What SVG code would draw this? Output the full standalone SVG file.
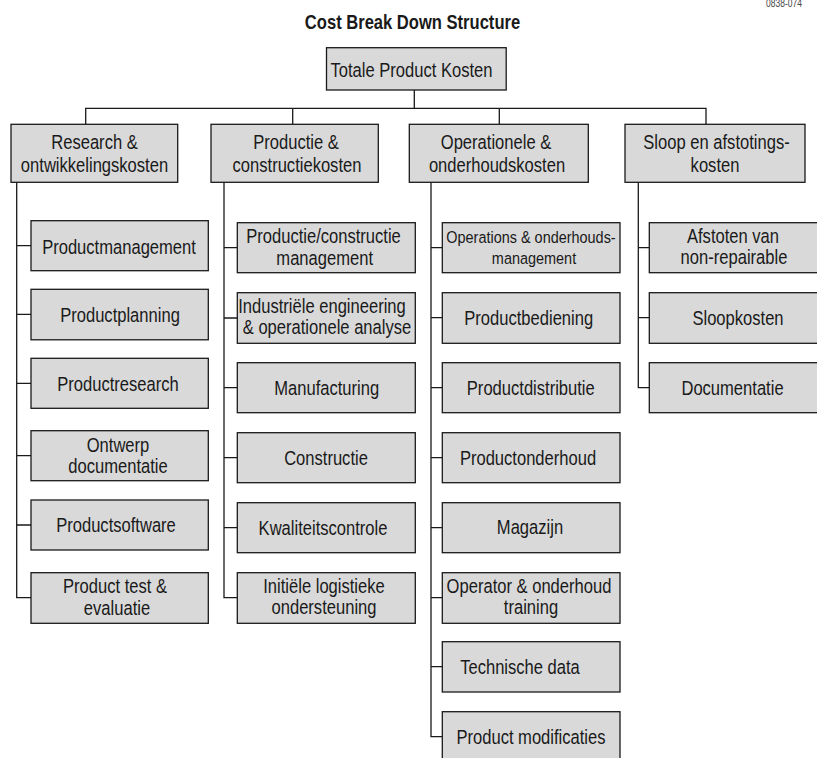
<svg xmlns="http://www.w3.org/2000/svg" width="817" height="758" viewBox="0 0 817 758">
  <style>
    text { font-family: "Liberation Sans", Arial, sans-serif; fill: #1a1a1a; text-anchor: middle; }
    .lbl { font-size: 19.5px; }
    .sm { font-size: 17px; }
    .title { font-size: 19.5px; font-weight: bold; }
    .code { font-size: 10px; fill: #444; text-anchor: start; }
    .box { fill: #d9d9d9; stroke: #1a1a1a; stroke-width: 1.3; }
    .wire { fill: none; stroke: #1a1a1a; stroke-width: 1.3; }
  </style>
  <rect width="817" height="758" fill="#ffffff"/>

  <!-- labels use a condensed look: Arial metrics squeezed to 85% width -->
  <text class="code" transform="translate(766 7) scale(0.85 1)">0838-074</text>
  <text class="title" transform="translate(412.5 29) scale(0.85 1)">Cost Break Down Structure</text>

  <!-- connectors -->
  <g id="connectors" class="wire">
    <path d="M414.3 90 V108.3 M85.7 124.3 V108.3 H706 V124.3 M292.7 108.3 V124.3 M499.3 108.3 V124.3"/>
    <!-- column 1 -->
    <path d="M16.7 182.3 V597.7 H31 M16.7 245.7 H31 M16.7 314.3 H31 M16.7 383.3 H31 M16.7 455.7 H31 M16.7 525 H31"/>
    <!-- column 2 -->
    <path d="M224 182.3 V597.7 H237.3 M224 247.7 H237.3 M224 318 H237.3 M224 387.7 H237.3 M224 457.7 H237.3 M224 527.7 H237.3"/>
    <!-- column 3 -->
    <path d="M431 182.3 V736.7 H442.3 M431 247.7 H442.3 M431 317.7 H442.3 M431 387.7 H442.3 M431 457.7 H442.3 M431 527.7 H442.3 M431 597.7 H442.3 M431 666.7 H442.3"/>
    <!-- column 4 -->
    <path d="M638.3 182.3 V387.7 H649.3 M638.3 247.7 H649.3 M638.3 317.7 H649.3"/>
  </g>

  <!-- root -->
  <g id="root">
    <rect class="box" x="326.5" y="47.7" width="179.7" height="42.3"/>
    <text class="lbl" transform="translate(411.5 77) scale(0.85 1)">Totale Product Kosten</text>
  </g>

  <!-- level 1 -->
  <g id="research">
    <rect class="box" x="11" y="124.3" width="166.7" height="58"/>
    <text class="lbl" transform="translate(94.5 149) scale(0.85 1)">Research &amp;</text>
    <text class="lbl" transform="translate(94.5 171.5) scale(0.85 1)">ontwikkelingskosten</text>
  </g>
  <g id="productie">
    <rect class="box" x="211" y="124.3" width="167.3" height="58"/>
    <text class="lbl" transform="translate(296 149) scale(0.85 1)">Productie &amp;</text>
    <text class="lbl" transform="translate(297 171.5) scale(0.85 1)">constructiekosten</text>
  </g>
  <g id="operationeel">
    <rect class="box" x="409.3" y="124.3" width="179" height="58"/>
    <text class="lbl" transform="translate(496 149) scale(0.85 1)">Operationele &amp;</text>
    <text class="lbl" transform="translate(497 171.5) scale(0.85 1)">onderhoudskosten</text>
  </g>
  <g id="sloop">
    <rect class="box" x="625" y="124.3" width="180" height="58"/>
    <text class="lbl" transform="translate(716.5 149) scale(0.85 1)">Sloop en afstotings-</text>
    <text class="lbl" transform="translate(715 171.5) scale(0.85 1)">kosten</text>
  </g>

  <!-- column 1: research & development -->
  <g id="productmanagement">
    <rect class="box" x="31" y="220.7" width="177.3" height="50"/>
    <text class="lbl" transform="translate(119 253.5) scale(0.85 1)">Productmanagement</text>
  </g>
  <g id="productplanning">
    <rect class="box" x="31" y="289.3" width="177.3" height="50.5"/>
    <text class="lbl" transform="translate(120 322) scale(0.85 1)">Productplanning</text>
  </g>
  <g id="productresearch">
    <rect class="box" x="31" y="358.3" width="177.3" height="50"/>
    <text class="lbl" transform="translate(118 391) scale(0.85 1)">Productresearch</text>
  </g>
  <g id="ontwerp">
    <rect class="box" x="31" y="430.7" width="177.3" height="50"/>
    <text class="lbl" transform="translate(118 451.5) scale(0.85 1)">Ontwerp</text>
    <text class="lbl" transform="translate(118 472.5) scale(0.85 1)">documentatie</text>
  </g>
  <g id="productsoftware">
    <rect class="box" x="31" y="500" width="177.3" height="50"/>
    <text class="lbl" transform="translate(116 532) scale(0.85 1)">Productsoftware</text>
  </g>
  <g id="producttest">
    <rect class="box" x="31" y="572.7" width="177.3" height="50.6"/>
    <text class="lbl" transform="translate(115 593.3) scale(0.85 1)">Product test &amp;</text>
    <text class="lbl" transform="translate(117 614.5) scale(0.85 1)">evaluatie</text>
  </g>

  <!-- column 2: production & construction -->
  <g id="prodmanagement">
    <rect class="box" x="237.3" y="222.7" width="178" height="50"/>
    <text class="lbl" transform="translate(323.5 243.3) scale(0.85 1)">Productie/constructie</text>
    <text class="lbl" transform="translate(324.7 264.5) scale(0.85 1)">management</text>
  </g>
  <g id="industrieel">
    <rect class="box" x="237.3" y="292.7" width="178" height="50.6"/>
    <text class="lbl" transform="translate(322 312.5) scale(0.85 1)">Industriële engineering</text>
    <text class="lbl" transform="translate(327 333.5) scale(0.85 1)">&amp; operationele analyse</text>
  </g>
  <g id="manufacturing">
    <rect class="box" x="237.3" y="362.7" width="178" height="50"/>
    <text class="lbl" transform="translate(326.7 395) scale(0.85 1)">Manufacturing</text>
  </g>
  <g id="constructie">
    <rect class="box" x="237.3" y="432.7" width="178" height="50"/>
    <text class="lbl" transform="translate(326 465) scale(0.85 1)">Constructie</text>
  </g>
  <g id="kwaliteit">
    <rect class="box" x="237.3" y="502.7" width="178" height="50"/>
    <text class="lbl" transform="translate(323 535) scale(0.85 1)">Kwaliteitscontrole</text>
  </g>
  <g id="logistiek">
    <rect class="box" x="237.3" y="572.7" width="178" height="50.6"/>
    <text class="lbl" transform="translate(324 593.2) scale(0.85 1)">Initiële logistieke</text>
    <text class="lbl" transform="translate(324 614.2) scale(0.85 1)">ondersteuning</text>
  </g>

  <!-- column 3: operations & maintenance -->
  <g id="opsmanagement">
    <rect class="box" x="442.3" y="222.7" width="177.7" height="50"/>
    <text class="sm" transform="translate(531 243.2) scale(0.85 1)">Operations &amp; onderhouds-</text>
    <text class="sm" transform="translate(534 264.2) scale(0.85 1)">management</text>
  </g>
  <g id="bediening">
    <rect class="box" x="442.3" y="292.7" width="177.7" height="50.6"/>
    <text class="lbl" transform="translate(528.7 325) scale(0.85 1)">Productbediening</text>
  </g>
  <g id="distributie">
    <rect class="box" x="442.3" y="362.7" width="177.7" height="50"/>
    <text class="lbl" transform="translate(530.8 395) scale(0.85 1)">Productdistributie</text>
  </g>
  <g id="onderhoud">
    <rect class="box" x="442.3" y="432.7" width="177.7" height="50"/>
    <text class="lbl" transform="translate(528 465) scale(0.85 1)">Productonderhoud</text>
  </g>
  <g id="magazijn">
    <rect class="box" x="442.3" y="502.7" width="177.7" height="50"/>
    <text class="lbl" transform="translate(530 534) scale(0.85 1)">Magazijn</text>
  </g>
  <g id="training">
    <rect class="box" x="442.3" y="572.7" width="177.7" height="50.6"/>
    <text class="lbl" transform="translate(529 593.2) scale(0.85 1)">Operator &amp; onderhoud</text>
    <text class="lbl" transform="translate(531 614.2) scale(0.85 1)">training</text>
  </g>
  <g id="technisch">
    <rect class="box" x="442.3" y="641.7" width="177.7" height="50.3"/>
    <text class="lbl" transform="translate(520 674) scale(0.85 1)">Technische data</text>
  </g>
  <g id="modificaties">
    <rect class="box" x="442.3" y="711.7" width="177.7" height="52"/>
    <text class="lbl" transform="translate(531 744) scale(0.85 1)">Product modificaties</text>
  </g>

  <!-- column 4: disposal -->
  <g id="afstoten">
    <rect class="box" x="649.3" y="222.7" width="172" height="50"/>
    <text class="lbl" transform="translate(733 243.2) scale(0.85 1)">Afstoten van</text>
    <text class="lbl" transform="translate(734 264.2) scale(0.85 1)">non-repairable</text>
  </g>
  <g id="sloopkosten">
    <rect class="box" x="649.3" y="292.7" width="172" height="50.6"/>
    <text class="lbl" transform="translate(738 325) scale(0.85 1)">Sloopkosten</text>
  </g>
  <g id="documentatie">
    <rect class="box" x="649.3" y="362.7" width="172" height="50"/>
    <text class="lbl" transform="translate(732.5 395) scale(0.85 1)">Documentatie</text>
  </g>
</svg>
